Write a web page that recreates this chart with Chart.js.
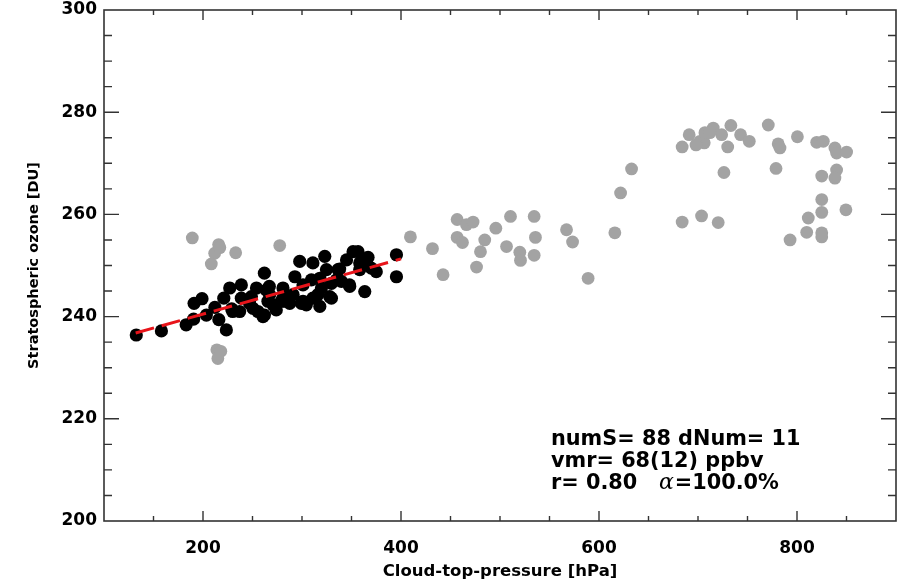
<!DOCTYPE html>
<html>
<head>
<meta charset="utf-8">
<script src="https://cdn.jsdelivr.net/npm/chart.js@4"></script>
<style>
  html, body { margin: 0; padding: 0; background: #fff; }
  #wrap { width: 912px; height: 585px; }
</style>
</head>
<body>
<div id="wrap"><canvas id="ozoneChart" width="912" height="585"></canvas></div>
<script>
// black points: selected scenes (cloud-top pressure [hPa], ozone [DU])
const selPressure = [132.6, 158, 183, 190.5, 191, 199, 203.4, 216, 223.6, 221, 227, 230, 238.7, 238.7, 237,
  247, 254, 255.5, 262, 262, 264, 265.6, 270.7, 274, 280.8, 282.5, 291, 292.8, 297.7, 299.4,
  304.4, 301, 309.5, 311, 316, 318, 323, 324.7, 328, 329.7, 336.4, 339.8, 345, 348, 351.6,
  356.6, 358.3, 363.4, 365, 370, 375, 395.4, 395.4, 248.9, 250.5, 267, 260.6, 279.2, 338,
  366.7, 348.2, 334.8, 319.6, 311, 318, 287.6, 329.7, 358.3, 301, 267.3, 280.8, 229, 212];
const selOzone = [236.4, 237.2, 238.4, 239.5, 242.6, 243.5, 240.3, 239.4, 237.4, 243.6, 245.6, 241, 246.2, 243.6, 241,
  242.6, 245.6, 241, 248.5, 240.3, 245.2, 243, 242.3, 241.3, 245.6, 243, 244.3, 247.8, 250.8, 242.6,
  242.3, 246.2, 247.2, 250.5, 244.3, 247.5, 251.8, 249.2, 243.9, 246.5, 249.2, 246.9, 251.1, 246.2, 252.7,
  252.7, 249.2, 244.9, 250.8, 249.5, 248.8, 252.1, 247.8, 243.9, 241.6, 245.9, 240, 243, 249.3,
  251.6, 245.9, 247.2, 245.6, 243.6, 242, 242.6, 243.6, 250.5, 243, 244.3, 243.6, 241.5, 241.8];

// grey points: remaining scenes
const otherPressure = [189.2, 215.8, 211.8, 208.4, 217, 233, 277.5, 214, 218, 215,
  409.5, 431.8, 442.5, 456.7, 466.1, 472.8, 456.7, 462.1, 476.3, 480.3, 484.6, 495.8, 510.6, 506.6,
  520, 520.7, 534.5, 535.8, 534.5, 567.2, 573.3, 589, 616, 621.8, 632.9,
  684, 703.6, 720.4, 684, 691.1, 701.9, 706.3, 707, 715.4, 723.9, 730, 726.2, 733.2, 743, 751.8,
  771, 781, 782.8, 778.8, 800.4, 793, 809.8, 811.4, 819.9, 826.6, 825, 825, 825, 825, 825,
  838.3, 840, 850.1, 840, 838.3, 849.4, 712, 698];
const otherOzone = [255.4, 254.1, 252.4, 250.3, 253.5, 252.5, 253.9, 233.5, 233.2, 231.8,
  255.6, 253.3, 248.2, 259, 258, 258.5, 255.5, 254.5, 249.7, 252.7, 255, 257.3, 259.6, 253.7,
  252.6, 251, 259.6, 255.5, 252, 257, 254.6, 247.5, 256.4, 264.2, 268.9,
  258.5, 259.7, 258.4, 273.2, 275.6, 274.3, 274, 276, 276.9, 275.6, 273.2, 268.2, 277.4, 275.6, 274.3,
  277.5, 273.8, 273, 269, 275.2, 255, 256.5, 259.3, 274.1, 274.3, 267.5, 262.9, 260.4, 256.4, 255.6,
  273, 272, 272.2, 268.7, 267.1, 260.9, 276, 273.6];

// regression line end points
const fitPressure = [132, 400];
const fitOzone = [236.8, 251.3];

const xTicks = [200, 400, 600, 800];
const yTicks = [200, 220, 240, 260, 280, 300];
const statsLines = ["numS= 88 dNum= 11", "vmr= 68(12) ppbv", "r= 0.80   "];
const alphaText = "=100.0%";

function toPoints(xs, ys) {
  return xs.map((x, i) => ({ x: x, y: ys[i] }));
}

const boldFont = '"DejaVu Sans", "Liberation Sans", sans-serif';

// frame with inward ticks on all four sides, IDL style
const frameTicks = {
  id: "frameTicks",
  afterDraw(chart) {
    const ctx = chart.ctx;
    const { left, right, top, bottom } = chart.chartArea;
    const xs = chart.scales.x, ys = chart.scales.y;
    ctx.save();
    ctx.strokeStyle = "#333";
    ctx.lineWidth = 1.6;
    ctx.strokeRect(left, top, right - left, bottom - top);
    ctx.lineWidth = 1.4;
    ctx.beginPath();
    for (let v = 150; v <= 850; v += 50) {
      const px = xs.getPixelForValue(v);
      const len = v % 200 === 0 ? 10 : 5;
      ctx.moveTo(px, bottom); ctx.lineTo(px, bottom - len);
      ctx.moveTo(px, top); ctx.lineTo(px, top + len);
    }
    for (let v = 205; v < 300; v += 5) {
      const py = ys.getPixelForValue(v);
      const len = v % 20 === 0 ? 15 : 8;
      ctx.moveTo(left, py); ctx.lineTo(left + len, py);
      ctx.moveTo(right, py); ctx.lineTo(right - len, py);
    }
    ctx.stroke();

    // statistics text
    const tx = left + 447;
    const ty = [top + 435, top + 457, top + 479];
    ctx.fillStyle = "#000";
    ctx.textBaseline = "alphabetic";
    ctx.font = "bold 20.8px " + boldFont;
    ctx.fillText(statsLines[0], tx, ty[0]);
    ctx.fillText(statsLines[1], tx, ty[1]);
    ctx.fillText(statsLines[2], tx, ty[2]);
    let ax = tx + ctx.measureText(statsLines[2]).width;
    ctx.font = 'italic 22px "DejaVu Serif", "Liberation Serif", serif';
    ctx.fillText("α", ax, ty[2]);
    ax += ctx.measureText("α").width + 1;
    ctx.font = "bold 20.8px " + boldFont;
    ctx.fillText(alphaText, ax, ty[2]);
    ctx.restore();
  }
};

const ctx = document.getElementById("ozoneChart").getContext("2d");
const chart = new Chart(ctx, {
  type: "scatter",
  data: {
    datasets: [
      {
        type: "line",
        label: "fit",
        data: toPoints(fitPressure, fitOzone),
        borderColor: "#e8141a",
        borderWidth: 3,
        borderDash: [19, 8],
        pointRadius: 0,
        fill: false,
        order: 0
      },
      {
        label: "selected",
        data: toPoints(selPressure, selOzone),
        backgroundColor: "#000",
        borderWidth: 0,
        pointRadius: 6.6,
        order: 1
      },
      {
        label: "other",
        data: toPoints(otherPressure, otherOzone),
        backgroundColor: "#a3a3a3",
        borderWidth: 0,
        pointRadius: 6.4,
        order: 2
      }
    ]
  },
  options: {
    responsive: false,
    animation: false,
    layout: { padding: { left: 0, right: 16, top: 10, bottom: 0 } },
    plugins: {
      legend: { display: false },
      tooltip: { enabled: false }
    },
    scales: {
      x: {
        type: "linear",
        min: 100,
        max: 900,
        grid: { display: false, drawTicks: false },
        border: { display: false },
        afterBuildTicks: (s) => { s.ticks = xTicks.map((v) => ({ value: v })); },
        afterFit: (s) => { s.height = 64; s.paddingLeft = 0; s.paddingRight = 0; },
        ticks: {
          padding: 17,
          color: "#000",
          font: { family: boldFont, size: 17, weight: "bold" }
        },
        title: {
          display: true,
          text: "Cloud-top-pressure [hPa]",
          color: "#000",
          padding: { top: 0, bottom: 3 },
          font: { family: boldFont, size: 16.5, weight: "bold" }
        }
      },
      y: {
        type: "linear",
        min: 200,
        max: 300,
        grid: { display: false, drawTicks: false },
        border: { display: false },
        afterBuildTicks: (s) => { s.ticks = yTicks.map((v) => ({ value: v })); },
        afterFit: (s) => { s.width = 104; s.paddingTop = 0; s.paddingBottom = 0; },
        ticks: {
          padding: 7,
          color: "#000",
          font: { family: boldFont, size: 17, weight: "bold" }
        },
        title: {
          display: true,
          text: "Stratospheric ozone [DU]",
          color: "#000",
          padding: { top: 26, bottom: 0 },
          font: { family: boldFont, size: 14.5, weight: "bold" }
        }
      }
    }
  },
  plugins: [frameTicks]
});
</script>
</body>
</html>
